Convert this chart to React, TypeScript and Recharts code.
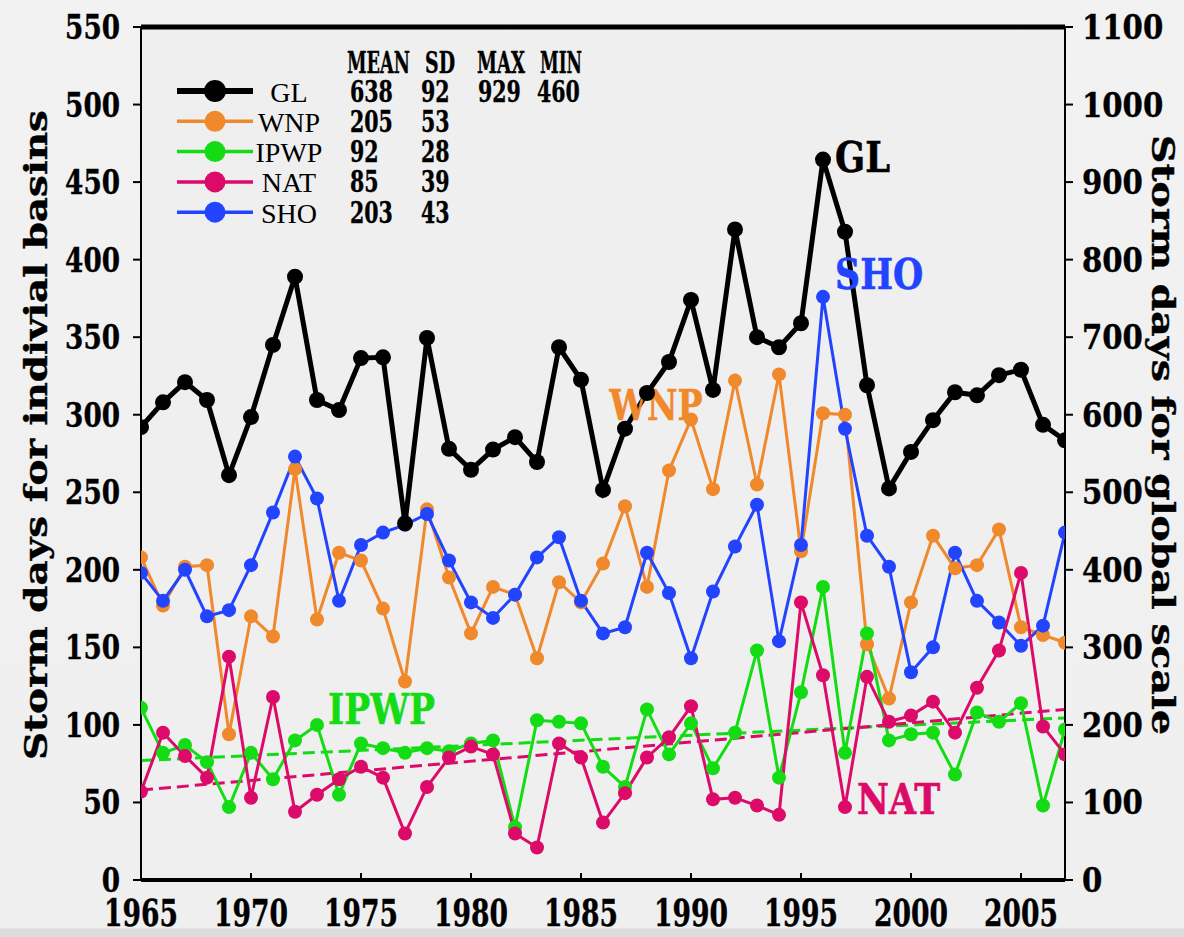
import React from 'react';
import {
  LineChart,
  Line,
  XAxis,
  YAxis,
  CartesianGrid,
  ReferenceLine,
  ReferenceDot,
  Legend,
} from 'recharts';

// ---------------- data ----------------
const years = [
  1965, 1966, 1967, 1968, 1969, 1970, 1971, 1972, 1973, 1974,
  1975, 1976, 1977, 1978, 1979, 1980, 1981, 1982, 1983, 1984,
  1985, 1986, 1987, 1988, 1989, 1990, 1991, 1992, 1993, 1994,
  1995, 1996, 1997, 1998, 1999, 2000, 2001, 2002, 2003, 2004,
  2005, 2006, 2007,
];

// global storm days (right axis)
const glDays = [
  584, 616, 642, 619, 522, 597, 690, 778, 619, 606,
  673, 674, 460, 699, 556, 529, 555, 571, 539, 687,
  645, 503, 582, 628, 668, 748, 632, 839, 700, 687,
  718, 929, 836, 638, 505, 552, 593, 629, 625, 651,
  658, 587, 567,
];

const wnpDays = [
  208, 177, 202, 203, 94, 170, 157, 265, 168, 211,
  206, 175, 128, 239, 195, 159, 189, 184, 143, 192,
  179, 204, 241, 189, 264, 297, 252, 322, 255, 326,
  212, 301, 300, 152, 117, 179, 222, 201, 203, 226,
  163, 158, 153,
];

const ipwpDays = [
  111, 82, 87, 76, 47, 82, 65, 90, 100, 55,
  88, 85, 82, 85, 83, 88, 90, 34, 103, 102,
  101, 73, 60, 110, 81, 101, 72, 95, 148, 66,
  121, 189, 82, 159, 90, 94, 95, 68, 108, 102,
  114, 48, 97,
];

const natDays = [
  57, 95, 80, 66, 144, 53, 118, 44, 55, 65,
  73, 66, 30, 60, 79, 86, 81, 30, 21, 88,
  79, 37, 56, 79, 92, 112, 52, 53, 48, 42,
  179, 132, 47, 131, 102, 106, 115, 95, 124, 148,
  198, 99, 81,
];

const shoDays = [
  198, 180, 200, 170, 174, 203, 237, 273, 246, 180,
  216, 224, 229, 236, 206, 179, 169, 184, 208, 221,
  180, 159, 163, 211, 185, 143, 186, 215, 242, 154,
  216, 376, 291, 222, 202, 134, 150, 211, 180, 166,
  151, 164, 224,
];

// linear trend lines (end points)
const trendYears = [1965, 2007];
const ipwpTrendValues = [77, 104.5];
const natTrendValues = [58, 110];

// ticks
const xTicks = [1965, 1970, 1975, 1980, 1985, 1990, 1995, 2000, 2005];
const leftTicks = [0, 50, 100, 150, 200, 250, 300, 350, 400, 450, 500, 550];
const rightTicks = [0, 100, 200, 300, 400, 500, 600, 700, 800, 900, 1000, 1100];

// legend statistics
const legendNames = ['GL', 'WNP', 'IPWP', 'NAT', 'SHO'];
const legendMeans = ['638', '205', '92', '85', '203'];
const legendSDs = ['92', '53', '28', '39', '43'];
const legendMax = ['929', '', '', '', ''];
const legendMin = ['460', '', '', '', ''];
const statHeaders = ['MEAN', 'SD', 'MAX', 'MIN'];

const leftTitle = 'Storm days for indivial basins';
const rightTitle = 'Storm days for global scale';

// ---------------- styles ----------------
const COLORS: Record<string, string> = {
  GL: '#000000',
  WNP: '#f0882c',
  IPWP: '#14dc14',
  NAT: '#dc0a68',
  SHO: '#2244ff',
};

const SLAB = '"DejaVu Serif", "Liberation Serif", serif';
const SERIF = '"Liberation Serif", "Times New Roman", serif';

// in-plot series labels (text, series, position in data space, drawn width)
const annotations = [
  { text: 'GL', key: 'GL', year: 1996.55, value: 466, w: 55 },
  { text: 'SHO', key: 'SHO', year: 1996.55, value: 391, w: 88 },
  { text: 'WNP', key: 'WNP', year: 1986.3, value: 306, w: 93 },
  { text: 'IPWP', key: 'IPWP', year: 1973.5, value: 110, w: 107 },
  { text: 'NAT', key: 'NAT', year: 1997.55, value: 52, w: 83 },
];

const data = years.map((year, i) => ({
  year,
  GL: glDays[i],
  WNP: wnpDays[i],
  IPWP: ipwpDays[i],
  NAT: natDays[i],
  SHO: shoDays[i],
}));
const ipwpTrend = trendYears.map((year, i) => ({ year, IPWPtrend: ipwpTrendValues[i] }));
const natTrend = trendYears.map((year, i) => ({ year, NATtrend: natTrendValues[i] }));

type TProps = {
  x: number;
  y: number;
  fs: number;
  len?: number;
  anchor?: 'start' | 'middle' | 'end';
  fill?: string;
  rot?: number;
  sw?: number;
  family?: string;
  weight?: string | number;
  dy?: number;
  children: React.ReactNode;
};

// text squeezed to a given drawn length (typewriter look of the original)
function TText({
  x, y, fs, len, anchor = 'start', fill = '#000', rot = 0, sw = 0.4,
  family = SLAB, weight = 'bold', dy = 0, children,
}: TProps) {
  return (
    <text
      transform={`translate(${x},${y}) rotate(${rot})`}
      x={0}
      y={dy}
      fontFamily={family}
      fontWeight={weight}
      fontSize={fs}
      fill={fill}
      stroke={sw ? fill : 'none'}
      strokeWidth={sw}
      textAnchor={anchor}
      dominantBaseline="central"
      textLength={len}
      lengthAdjust={len ? 'spacingAndGlyphs' : undefined}
    >
      {children}
    </text>
  );
}

const LeftTick = (props: any) => {
  const { x, y, payload } = props;
  const s = String(payload.value);
  return (
    <g>
      <line x1={x - 8} x2={x} y1={y} y2={y} stroke="#000" strokeWidth={2} />
      <TText x={x - 21} y={y} fs={34} len={s.length * 18.3} anchor="end">{s}</TText>
    </g>
  );
};

const RightTick = (props: any) => {
  const { x, y, payload } = props;
  const s = String(payload.value);
  return (
    <g>
      <line x1={x} x2={x + 8} y1={y} y2={y} stroke="#000" strokeWidth={2} />
      <TText x={x + 17} y={y} fs={34} len={s.length * 20.3} anchor="start">{s}</TText>
    </g>
  );
};

const BottomTick = (props: any) => {
  const { x, y, payload } = props;
  const s = String(payload.value);
  return (
    <g>
      <line x1={x} x2={x} y1={y - 7} y2={y} stroke="#000" strokeWidth={2} />
      <TText x={x} y={y + 33} fs={37} len={s.length * 18.5} anchor="middle">{s}</TText>
    </g>
  );
};

const renderLegend = (props: any) => {
  const payload: any[] = props.payload || [];
  const colorOf = (name: string) => {
    const p = payload.find((e) => e.value === name || e.dataKey === name);
    return (p && p.color) || COLORS[name];
  };
  const rowY = (i: number) => 91 + i * 30.3;
  const statX = [350, 421, 478, 537];
  const headX = [347, 425, 477, 540];
  const headW = [63, 30, 48, 42];
  return (
    <svg width={1184} height={937} style={{ position: 'absolute', left: 0, top: 0, overflow: 'visible' }}>
      {statHeaders.map((h, j) => (
        <TText key={h} x={headX[j]} y={62} fs={30} len={headW[j]}>{h}</TText>
      ))}
      {legendNames.map((name, i) => {
        const c = colorOf(name);
        const y = rowY(i);
        const stats = [legendMeans[i], legendSDs[i], legendMax[i], legendMin[i]];
        return (
          <g key={name}>
            <line x1={177} x2={253} y1={y} y2={y} stroke={c} strokeWidth={name === 'GL' ? 6 : 3.5} />
            <circle cx={215} cy={y} r={name === 'GL' ? 11 : 10.5} fill={c} />
            <TText x={289} y={y + 1} fs={28} anchor="middle" family={SERIF} weight="normal" sw={0}>{name}</TText>
            {stats.map((s, j) => (s ? (
              <TText key={j} x={statX[j]} y={y} fs={30} len={s.length * 14.3}>{s}</TText>
            ) : null))}
          </g>
        );
      })}
    </svg>
  );
};

export default function App() {
  return (
    <div
      style={{
        position: 'absolute',
        left: 0,
        top: 0,
        width: 1184,
        height: 937,
        background: 'linear-gradient(to bottom, #f2f2f2 0px, #efefef 928px, #dcdcdc 929px, #dcdcdc 937px)',
        overflow: 'hidden',
      }}
    >
      <LineChart
        width={1184}
        height={937}
        data={data}
        margin={{ top: 27, right: 0, bottom: 0, left: 0 }}
      >
        <CartesianGrid horizontal={false} vertical={false} fill="#efefef" />
        <XAxis
          dataKey="year"
          type="number"
          domain={[1965, 2007]}
          ticks={xTicks}
          allowDataOverflow
          height={57}
          tickSize={0}
          tickMargin={0}
          tickLine={false}
          axisLine={{ stroke: '#000', strokeWidth: 4 }}
          tick={<BottomTick />}
          interval={0}
        />
        <YAxis
          yAxisId="left"
          orientation="left"
          domain={[0, 550]}
          ticks={leftTicks}
          width={141}
          tickSize={0}
          tickMargin={0}
          tickLine={false}
          axisLine={{ stroke: '#000', strokeWidth: 2 }}
          tick={<LeftTick />}
          interval={0}
          label={{
            content: () => (
              <TText x={36} y={435} fs={32} len={650} rot={-90} anchor="middle">{leftTitle}</TText>
            ),
          }}
        />
        <YAxis
          yAxisId="right"
          orientation="right"
          domain={[0, 1100]}
          ticks={rightTicks}
          width={119}
          tickSize={0}
          tickMargin={0}
          tickLine={false}
          axisLine={{ stroke: '#000', strokeWidth: 2 }}
          tick={<RightTick />}
          interval={0}
          label={{
            content: () => (
              <TText x={1163} y={435} fs={32} len={600} rot={90} anchor="middle">{rightTitle}</TText>
            ),
          }}
        />
        <ReferenceLine yAxisId="left" y={550} stroke="#000" strokeWidth={5} ifOverflow="visible" />

        <Line
          yAxisId="left"
          dataKey="WNP"
          name="WNP"
          stroke={COLORS.WNP}
          strokeWidth={3}
          dot={{ r: 7, fill: COLORS.WNP, stroke: COLORS.WNP, strokeWidth: 0 }}
          isAnimationActive={false}
        />
        <Line
          yAxisId="left"
          dataKey="SHO"
          name="SHO"
          stroke={COLORS.SHO}
          strokeWidth={3}
          dot={{ r: 7, fill: COLORS.SHO, stroke: COLORS.SHO, strokeWidth: 0 }}
          isAnimationActive={false}
        />
        <Line
          yAxisId="left"
          data={ipwpTrend}
          dataKey="IPWPtrend"
          stroke={COLORS.IPWP}
          strokeWidth={3}
          strokeDasharray="12 6"
          dot={false}
          legendType="none"
          isAnimationActive={false}
        />
        <Line
          yAxisId="left"
          data={natTrend}
          dataKey="NATtrend"
          stroke={COLORS.NAT}
          strokeWidth={3}
          strokeDasharray="12 6"
          dot={false}
          legendType="none"
          isAnimationActive={false}
        />
        <Line
          yAxisId="left"
          dataKey="IPWP"
          name="IPWP"
          stroke={COLORS.IPWP}
          strokeWidth={3}
          dot={{ r: 7, fill: COLORS.IPWP, stroke: COLORS.IPWP, strokeWidth: 0 }}
          isAnimationActive={false}
        />
        <Line
          yAxisId="left"
          dataKey="NAT"
          name="NAT"
          stroke={COLORS.NAT}
          strokeWidth={3}
          dot={{ r: 7, fill: COLORS.NAT, stroke: COLORS.NAT, strokeWidth: 0 }}
          isAnimationActive={false}
        />
        <Line
          yAxisId="right"
          dataKey="GL"
          name="GL"
          stroke={COLORS.GL}
          strokeWidth={5}
          dot={{ r: 8, fill: COLORS.GL, stroke: COLORS.GL, strokeWidth: 0 }}
          isAnimationActive={false}
        />

        {annotations.map((a) => (
          <ReferenceDot
            key={a.text}
            yAxisId="left"
            x={a.year}
            y={a.value}
            r={0}
            ifOverflow="visible"
            shape={(p: any) => (
              <TText x={p.cx} y={p.cy} fs={43} len={a.w} fill={COLORS[a.key]} sw={0.6}>{a.text}</TText>
            )}
          />
        ))}

        <Legend
          layout="horizontal"
          verticalAlign="middle"
          align="center"
          content={renderLegend}
          wrapperStyle={{ position: 'absolute', left: 0, top: 0, width: 1184, height: 937, pointerEvents: 'none' }}
        />
      </LineChart>
    </div>
  );
}
